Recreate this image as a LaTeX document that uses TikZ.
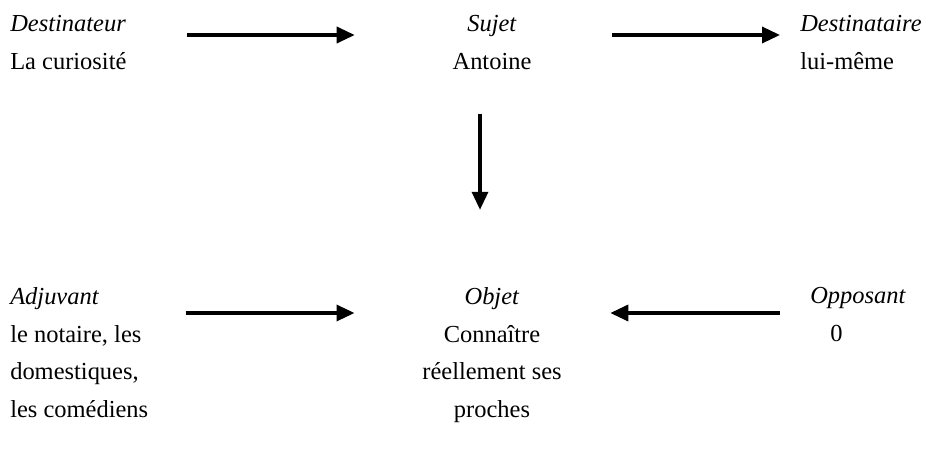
\documentclass[tikz,border=0pt]{standalone}
\usepackage{fontspec}
\setmainfont{Liberation Serif}
\usepackage{tikz}
\usetikzlibrary{arrows.meta, positioning}

\begin{document}
\begin{tikzpicture}[
        actant/.style={inner sep=0pt, font=\fontsize{17.4}{26.9}\selectfont},
        arrow/.style={-{Triangle[length=0.45cm, width=0.4cm]}, line width=0.085cm}
    ]
        \useasboundingbox (0, 0) rectangle (23.525, -11.225);

        % Top row
        \node (dest) [actant, anchor=north west, align=left] at (0.25, -0.375) {\textit{Destinateur}\\La curiosité};
        \node (sujet) [actant, anchor=north, align=center] at (12.3, -0.375) {\textit{Sujet}\\Antoine};
        \node (destre) [actant, anchor=north west, align=left] at (20.0, -0.375) {\textit{Destinataire}\\lui-même};

        % Bottom row
        \node (adj) [actant, anchor=north west, align=left] at (0.25, -7.175) {\textit{Adjuvant}\\le notaire, les\\domestiques,\\les comédiens};
        \node (objet) [actant, anchor=north, align=center] at (12.3, -7.175) {\textit{Objet}\\Connaître\\réellement ses\\proches};
        \node (opp) [actant, anchor=north west, align=left] at (20.25, -7.175) {\textit{Opposant}\\\hspace*{0.5cm}0};

        % Arrows
        \draw [arrow, shorten <=1.5cm, shorten >=2.44cm] ([yshift=-0.5cm]dest.north east) -- ([yshift=-0.5cm]sujet.north west);
        \draw [arrow, shorten <=2.02cm, shorten >=0.5cm] ([yshift=-0.5cm]sujet.north east) -- ([yshift=-0.5cm]destre.north west);
        \draw [arrow, shorten <=1.11cm, shorten >=1.93cm] ([xshift=-0.3cm]sujet.south) -- ([xshift=-0.3cm]objet.north);
        \draw [arrow, shorten <=0.93cm, shorten >=1.69cm] ([yshift=-0.65cm]adj.north east) -- ([yshift=-0.65cm]objet.north west);
        \draw [arrow, shorten <=0.75cm, shorten >=1.21cm] ([yshift=-0.65cm]opp.north west) -- ([yshift=-0.65cm]objet.north east);
    \end{tikzpicture}
\end{document}
